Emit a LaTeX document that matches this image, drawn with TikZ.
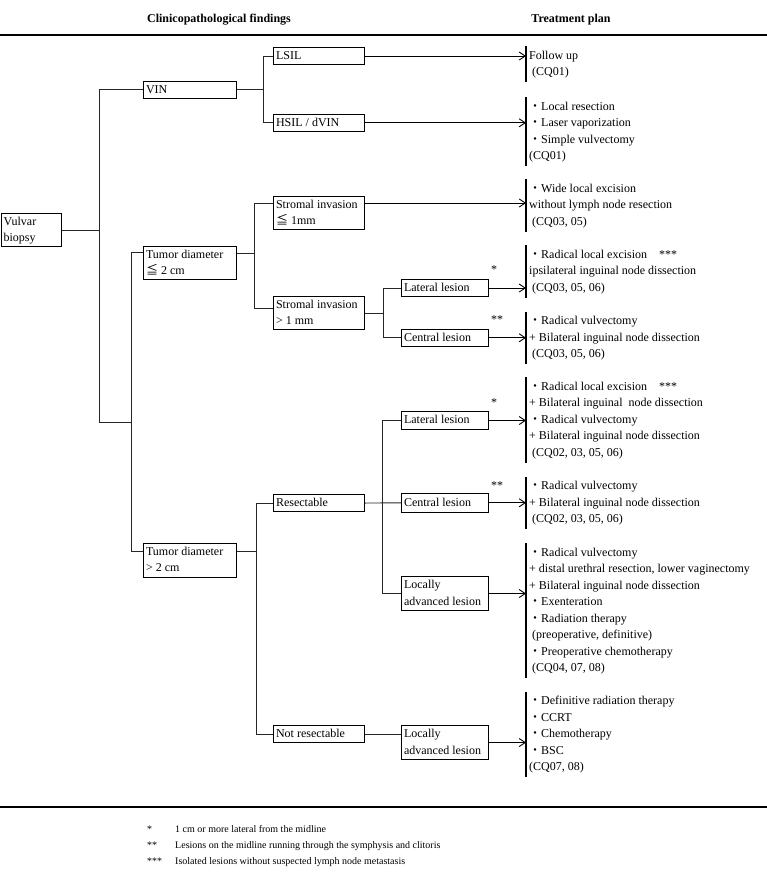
\documentclass[tikz,border=0pt]{standalone}
\usepackage{fontspec}
\setmainfont{Liberation Serif}
\newfontfamily\cjk{Noto Sans CJK JP}
\usetikzlibrary{arrows.meta,calc}
\newcommand\dt{{\cjk ・}}
\newcommand\myle{{\cjk ≦}}
\newcommand\fs{\fontsize{12}{16.5}\selectfont}
\begin{document}
\begin{tikzpicture}[x=1pt,y=-1pt,
  box/.style={draw, line width=1.1pt, anchor=north west, inner xsep=2.5pt, inner ysep=0pt,
    align=flush left, font=\fs, execute at begin node={\strut}, execute at end node={\strut}},
  trt/.style={anchor=north west, inner xsep=3pt, inner ysep=1.5pt, align=flush left, font=\fs,
    text width=232pt, execute at begin node={\strut}, execute at end node={\strut}},
  bar/.style={line width=1.1pt},
  ln/.style={line width=0.9pt, draw=black!85},
  arr/.style={line width=0.9pt, -{Straight Barb[length=6pt,width=8pt]}},
  star/.style={font=\fs, inner sep=0pt},
  rule/.style={line width=2.2pt}]
\useasboundingbox (0,0) rectangle (767,875);

% headers and rules
\node[font=\fs\bfseries] (h1) at (219,20) {Clinicopathological findings};
\node[font=\fs\bfseries] (h2) at (571,20) {Treatment plan};
\draw[rule] (0,35) -- (767,35);
\draw[rule] (0,807) -- (767,807);

% tree boxes
\node[box, text width=55pt, minimum height=33pt] (bx) at (0.6,213) {Vulvar\\biopsy};
\node[box, text width=88pt, minimum height=16.5pt] (vin) at (143,81) {VIN};
\node[box, text width=86pt, minimum height=17pt] (lsil) at (273,47) {LSIL};
\node[box, text width=86pt, minimum height=16.5pt] (hsil) at (273,114) {HSIL / dVIN};
\node[box, text width=88pt, minimum height=33pt] (t1) at (143,246) {Tumor diameter\\\myle\ 2 cm};
\node[box, text width=86pt, minimum height=33pt] (s1) at (273,196) {Stromal invasion\\\myle\ 1mm};
\node[box, text width=86pt, minimum height=32.5pt] (s2) at (273,296) {Stromal invasion\\> 1 mm};
\node[box, text width=82pt, minimum height=17pt] (lat1) at (401,279) {Lateral lesion};
\node[box, text width=82pt, minimum height=16.5pt] (cen1) at (401,329) {Central lesion};
\node[box, text width=88pt, minimum height=33.5pt] (t2) at (143,543) {Tumor diameter\\> 2 cm};
\node[box, text width=86pt, minimum height=17pt] (res) at (273,494) {Resectable};
\node[box, text width=86pt, minimum height=17pt] (nres) at (273,725) {Not resectable};
\node[box, text width=82pt, minimum height=18pt] (lat2) at (401,411) {Lateral lesion};
\node[box, text width=82pt, minimum height=18.5pt] (cen2) at (401,493) {Central lesion};
\node[box, text width=82pt, minimum height=34pt] (loc1) at (401,576) {Locally\\advanced lesion};
\node[box, text width=82pt, minimum height=34pt] (loc2) at (401,725) {Locally\\advanced lesion};

% treatment blocks
\node[trt] (tr1) at (526,46) {Follow up\\\ (CQ01)};
\node[trt] (tr2) at (526,97) {\dt Local resection\\\dt Laser vaporization\\\dt Simple vulvectomy\\(CQ01)};
\node[trt] (tr3) at (526,179) {\dt Wide local excision\\without lymph node resection\\\ (CQ03, 05)};
\node[trt] (tr4) at (526,245) {\dt Radical local excision\quad ***\\ipsilateral inguinal node dissection\\\ (CQ03, 05, 06)};
\node[trt] (tr5) at (526,311.5) {\dt Radical vulvectomy\\+ Bilateral inguinal node dissection\\\ (CQ03, 05, 06)};
\node[trt] (tr6) at (526,377) {\dt Radical local excision\quad ***\\+ Bilateral inguinal\ \ node dissection\\\dt Radical vulvectomy\\+ Bilateral inguinal node dissection\\\ (CQ02, 03, 05, 06)};
\node[trt] (tr7) at (526,476.5) {\dt Radical vulvectomy\\+ Bilateral inguinal node dissection\\\ (CQ02, 03, 05, 06)};
\node[trt] (tr8) at (526,543) {\dt Radical vulvectomy\\+ distal urethral resection, lower vaginectomy\\+ Bilateral inguinal node dissection\\\dt Exenteration\\\dt Radiation therapy\\\ (preoperative, definitive)\\\dt Preoperative chemotherapy\\\ (CQ04, 07, 08)};
\node[trt] (tr9) at (526,691.5) {\dt Definitive radiation therapy\\\dt CCRT\\\dt Chemotherapy\\\dt BSC\\(CQ07, 08)};

\foreach \t in {tr1,tr2,tr3,tr4,tr5,tr6,tr7,tr8,tr9}
  \draw[bar] (\t.north west) -- (\t.south west);

% stars
\node[star] (sa) at (494,270) {*};
\node[star] (sb) at (497,320) {**};
\node[star] (sc) at (494,403) {*};
\node[star] (sd) at (497,486) {**};

% connectors: level 0/1
\coordinate (ja) at (99,422);
\coordinate (jb) at (131,422);
\draw[ln] (bx.east) -- (bx.east -| ja);
\draw[ln] (vin.west) -| (ja) -- (jb);
\draw[ln] ($(t1.north west)+(0,6)$) -| (jb);
\draw[ln] ($(t2.north west)+(0,8)$) -| (jb);

% VIN branch
\draw[ln] (vin.east) -- ++(26,0) coordinate (jv);
\draw[ln] (lsil.west) -| (jv) |- (hsil.west);
\draw[arr] (lsil.east) -- (lsil.east -| tr1.west);
\draw[arr] (hsil.east) -- (hsil.east -| tr2.west);

% Tumor <= 2 cm branch
\coordinate (s1w) at ($(s1.north west)+(0,7)$);
\coordinate (s1e) at ($(s1.north east)+(0,7)$);
\coordinate (s2w) at ($(s2.north west)+(0,12)$);
\draw[ln] ($(t1.north east)+(0,7)$) -- ++(17,0) coordinate (jt1);
\draw[ln] (s1w) -| (jt1) |- (s2w);
\draw[arr] (s1e) -- (s1e -| tr3.west);
\draw[ln] (s2.east) -- ++(18,0) coordinate (js);
\draw[ln] (lat1.west) -| (js) |- (cen1.west);
\draw[arr] (lat1.east) -- (lat1.east -| tr4.west);
\draw[arr] (cen1.east) -- (cen1.east -| tr5.west);

% Tumor > 2 cm branch
\draw[ln] ($(t2.north east)+(0,8)$) -- ++(19,0) coordinate (jt2);
\draw[ln] (res.west) -| (jt2) |- (nres.west);
\draw[ln] (res.east) -- (cen2.west);
\coordinate (jr) at ($(res.east)+(17,0)$);
\draw[ln] (lat2.west) -| (jr) |- (loc1.west);
\draw[ln] (nres.east) -- (nres.east -| loc2.west);
\draw[arr] (lat2.east) -- (lat2.east -| tr6.west);
\draw[arr] (cen2.east) -- (cen2.east -| tr7.west);
\draw[arr] (loc1.east) -- (loc1.east -| tr8.west);
\draw[arr] (loc2.east) -- (loc2.east -| tr9.west);

% footnotes
\node[anchor=north west, inner sep=0pt, font=\fontsize{10}{16}\selectfont] (fn) at (147,821)
  {\begin{tabular}{@{}p{28pt}@{}l@{}}
   {*} & 1 cm or more lateral from the midline\\
   {**} & Lesions on the midline running through the symphysis and clitoris\\
   {***} & Isolated lesions without suspected lymph node metastasis
   \end{tabular}};
\end{tikzpicture}
\end{document}
